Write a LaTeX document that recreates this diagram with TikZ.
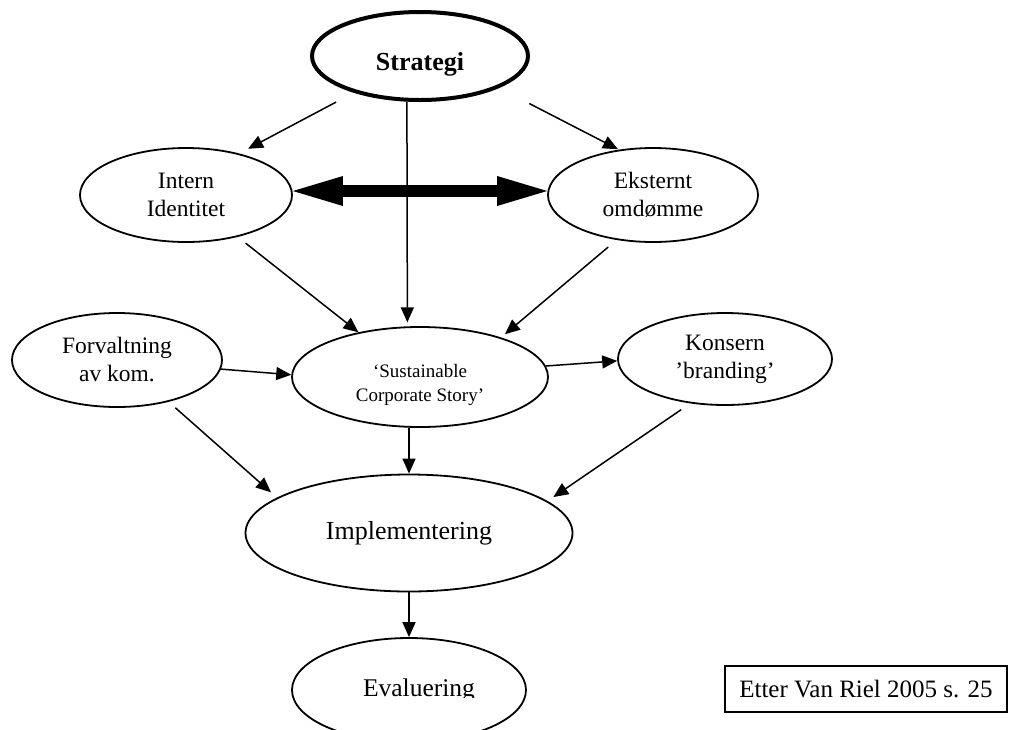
\documentclass[tikz,border=0pt]{standalone}
\usepackage{fontspec}
\setmainfont{Liberation Serif}
\usetikzlibrary{arrows.meta,shapes.geometric}
\tikzset{bigtip/.tip={Triangle[length=50pt,width=30pt,line width=0pt]}}
\begin{document}
\begin{tikzpicture}[x=1pt,y=-1pt,
  oval/.style={draw,ellipse,line width=1.8pt,inner sep=0pt,align=center,
    font=\fontsize{23.5}{28}\selectfont},
  flow/.style={line width=1.5pt,-{Triangle[length=15pt,width=13pt]}},
]
\useasboundingbox (0,0) rectangle (1009,729);

% ellipses (a zero-width rule lowers the text where needed)
\node[oval,line width=4pt,minimum width=216pt,minimum height=88pt,
  font=\fontsize{26}{30}\selectfont\bfseries] (strategi) at (420,56) {\rule{0pt}{34pt}Strategi};
\node[oval,minimum width=212pt,minimum height=94pt] (intern) at (186,195) {Intern\\Identitet};
\node[oval,minimum width=210pt,minimum height=94pt] (eksternt) at (653,195) {Eksternt\\omdømme};
\node[oval,minimum width=210pt,minimum height=94pt] (forvaltning) at (117,360) {Forvaltning\\av kom.};
\node[oval,minimum width=256pt,minimum height=100pt,
  font=\fontsize{19}{24}\selectfont] (story) at (420,377) {\rule{0pt}{30pt}‘Sustainable\\Corporate Story’};
\node[oval,minimum width=214pt,minimum height=92pt] (konsern) at (725,359) {Konsern\\’branding’};
\node[oval,minimum width=327pt,minimum height=117pt,
  font=\fontsize{26}{30}\selectfont] (impl) at (409,533) {Implementering};
\node[oval,minimum width=234pt,minimum height=104pt] (eval) at (409,690) {};
\begin{scope}
  \clip (0,0) rectangle (1009,697);
  \node[font=\fontsize{25.5}{30}\selectfont] (evaltext) at ([xshift=10pt]eval.center) {Evaluering};
\end{scope}

% source box
\node[draw,line width=1.5pt,minimum width=282pt,minimum height=46pt,inner sep=0pt,
  font=\fontsize{25}{30}\selectfont] (kilde) at (866,689) {Etter Van Riel 2005 s. 25};

% connectors
\draw[flow,shorten <=20pt,shorten >=10pt] (strategi.-151) -- (intern.38);
\draw[flow,shorten <=34pt,shorten >=1pt] (strategi.-22) -- (eksternt.127);
\draw[flow,shorten >=4pt] (strategi.-106.5) -- (story.104.6);
\draw[line width=12pt,{bigtip}-{bigtip}] ([yshift=4pt]intern.east) -- ([yshift=4pt]eksternt.west);
\draw[flow,shorten <=10pt] (intern.-39) -- (story.144.6);
\draw[flow,shorten <=11pt,shorten >=5pt] (eksternt.-129) -- (story.26.8);
\draw[flow] (forvaltning.-5) -- (story.179);
\draw[flow] (story.5) -- (konsern.181.6);
\draw[flow,shorten <=9pt,shorten >=8pt] (forvaltning.-39) -- (impl.165.7);
\draw[flow,shorten <=11pt,shorten >=7pt] (konsern.-128) -- (impl.13.9);
\draw[flow] (story.south -| impl.north) -- (impl.north);
\draw[flow] (impl.south) -- (eval.north);
\end{tikzpicture}
\end{document}
